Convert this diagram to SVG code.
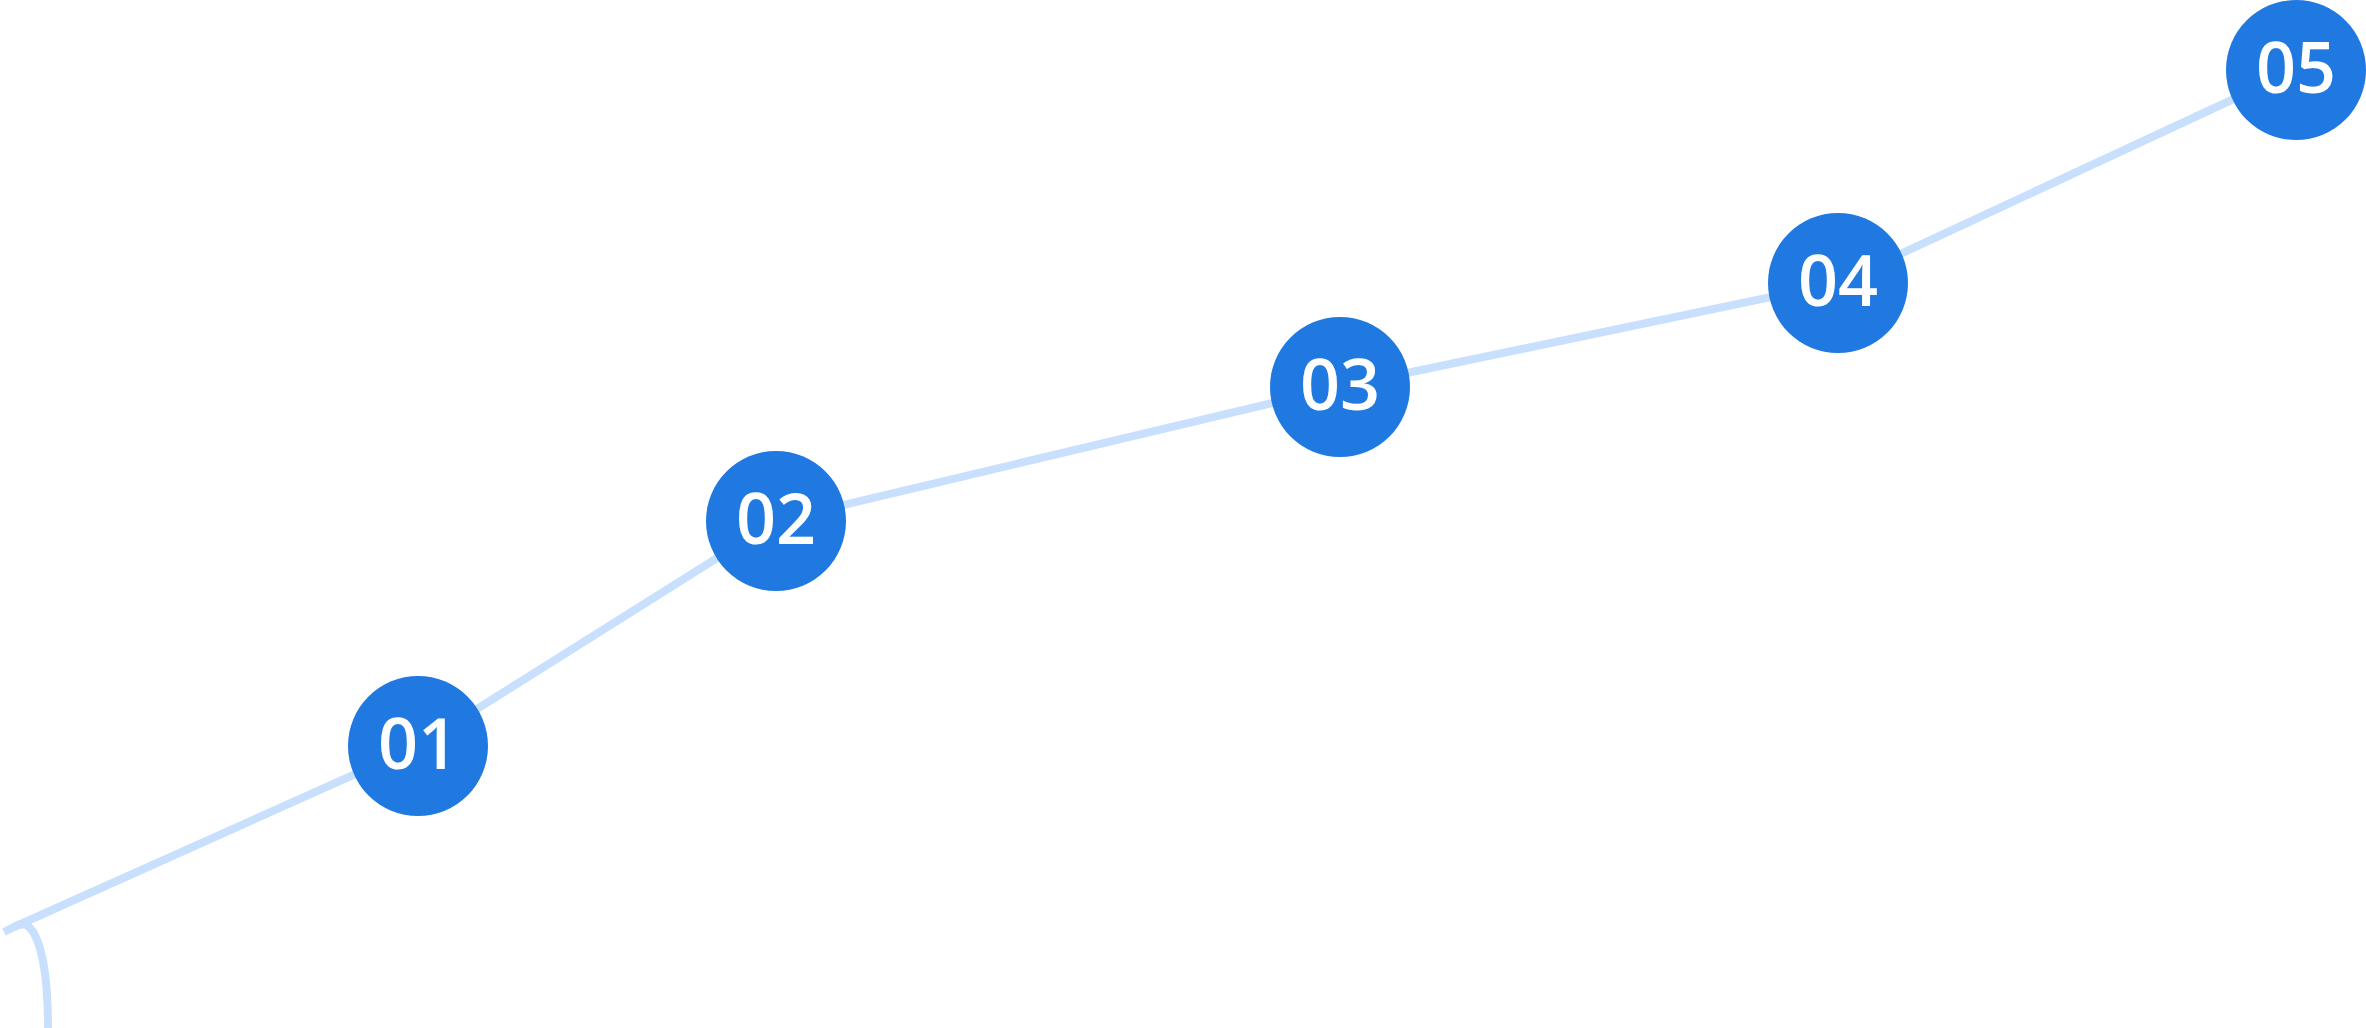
<svg xmlns="http://www.w3.org/2000/svg" width="2366" height="1028" viewBox="0 0 2366 1028">
<style>
.c{fill:#2079e0}
.t{fill:#fff;font-family:"Open Sans",sans-serif;font-weight:600;font-size:70px;text-anchor:middle;dominant-baseline:central}
.l{fill:none;stroke:#c8e0fd;stroke-width:8}
</style>
<rect width="2366" height="1028" fill="#fff"/>
<g id="connectors">
<path class="l" d="M48,1028 C48,955 35,918 18,925 L4,932"/>
<path class="l" d="M14,927 L418,746 L776,521 L1340,387 L1838,283 L2296,70"/>
</g>
<g id="n01"><circle class="c" cx="418" cy="746" r="70"/><text class="t" x="418" y="742">01</text></g>
<g id="n02"><circle class="c" cx="776" cy="521" r="70"/><text class="t" x="776" y="517">02</text></g>
<g id="n03"><circle class="c" cx="1340" cy="387" r="70"/><text class="t" x="1340" y="383">03</text></g>
<g id="n04"><circle class="c" cx="1838" cy="283" r="70"/><text class="t" x="1838" y="279">04</text></g>
<g id="n05"><circle class="c" cx="2296" cy="70" r="70"/><text class="t" x="2296" y="66">05</text></g>
</svg>
